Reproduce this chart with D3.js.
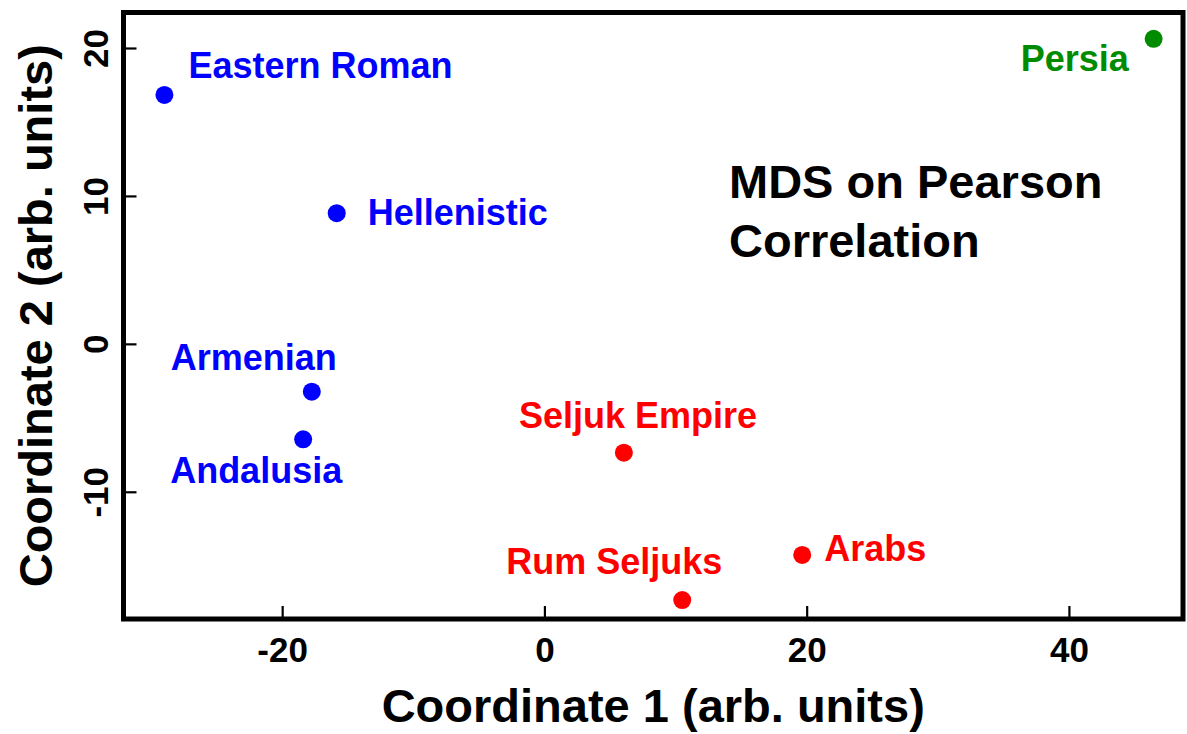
<!DOCTYPE html>
<html>
<head>
  <meta charset="utf-8">
  <style>
    body { margin: 0; background: #fff; }
    text { font-family: "Liberation Sans", Arial, Helvetica, sans-serif; font-weight: bold; }
  </style>
</head>
<body>
  <script src="https://d3js.org/d3.v7.min.js"></script>
  <svg id="chart"></svg>
  <script>
    // data
    var names = ["Eastern Roman", "Hellenistic", "Armenian", "Andalusia",
                 "Seljuk Empire", "Rum Seljuks", "Arabs", "Persia"];
    var coord1 = [-28.98, -15.84, -17.74, -18.40, 6.06, 10.51, 19.66, 46.46];
    var coord2 = [16.83, 8.83, -3.23, -6.45, -7.36, -17.32, -14.27, 20.62];
    var groups = ["west", "west", "west", "west", "turk", "turk", "turk", "persia"];
    var xTicks = [-20, 0, 20, 40];
    var yTicks = [-10, 0, 10, 20];

    var colors = { west: "#0000ff", turk: "#ff0000", persia: "#008b00" };

    // label placement relative to its point (pixels)
    var labelOffset = {
      "Eastern Roman": [24, -17],
      "Hellenistic": [31, 12],
      "Armenian": [-141, -22],
      "Andalusia": [-133, 44],
      "Seljuk Empire": [-105, -25],
      "Rum Seljuks": [-176, -26],
      "Arabs": [22, 6],
      "Persia": [-133, 32]
    };

    var width = 1187, height = 734;
    var plotLeft = 123.5, plotRight = 1183, plotTop = 12.5, plotBottom = 619;

    var svg = d3.select("#chart").attr("width", width).attr("height", height);

    var x = d3.scaleLinear().domain([-32.1, 48.7]).range([plotLeft, plotRight]);
    var y = d3.scaleLinear().domain([-18.6, 22.4]).range([plotBottom, plotTop]);

    var points = names.map(function(n, i) {
      return { name: n, x: coord1[i], y: coord2[i], group: groups[i] };
    });

    var plainFmt = function(d) { return String(d); }; // hyphen minus like R

    // x axis, ticks pointing in
    var xAxis = svg.append("g")
      .attr("transform", "translate(0," + plotBottom + ")")
      .call(d3.axisBottom(x).tickValues(xTicks).tickFormat(plainFmt).tickSize(-13).tickPadding(18));
    xAxis.select(".domain").remove();
    xAxis.selectAll("line").attr("stroke", "#000").attr("stroke-width", 2.2);
    xAxis.selectAll("text")
      .attr("fill", "#000")
      .style("font-size", "35px");

    // y axis, rotated labels like R
    var yAxis = svg.append("g")
      .attr("transform", "translate(" + plotLeft + ",0)")
      .call(d3.axisLeft(y).tickValues(yTicks).tickFormat(plainFmt).tickSize(-13));
    yAxis.select(".domain").remove();
    yAxis.selectAll("line").attr("stroke", "#000").attr("stroke-width", 2.2);
    yAxis.selectAll("text")
      .attr("x", 0)
      .attr("y", -16)
      .attr("dy", null)
      .attr("text-anchor", "middle")
      .attr("transform", "rotate(-90)")
      .attr("fill", "#000")
      .style("font-size", "35px");

    // frame
    svg.append("rect")
      .attr("x", plotLeft).attr("y", plotTop)
      .attr("width", plotRight - plotLeft).attr("height", plotBottom - plotTop)
      .attr("fill", "none")
      .attr("stroke", "#000")
      .attr("stroke-width", 5);

    // points
    svg.selectAll("circle.pt")
      .data(points)
      .enter().append("circle")
      .attr("class", "pt")
      .attr("cx", function(d) { return x(d.x); })
      .attr("cy", function(d) { return y(d.y); })
      .attr("r", 9)
      .attr("fill", function(d) { return colors[d.group]; });

    svg.selectAll("text.lbl")
      .data(points)
      .enter().append("text")
      .attr("class", "lbl")
      .attr("x", function(d) { return x(d.x) + labelOffset[d.name][0]; })
      .attr("y", function(d) { return y(d.y) + labelOffset[d.name][1]; })
      .attr("fill", function(d) { return colors[d.group]; })
      .style("font-size", "36px")
      .text(function(d) { return d.name; });

    // annotation
    var note = svg.append("text")
      .attr("x", 729)
      .attr("y", 198)
      .style("font-size", "47px")
      .attr("fill", "#000");
    note.append("tspan").attr("x", 729).text("MDS on Pearson");
    note.append("tspan").attr("x", 729).attr("dy", 59).text("Correlation");

    // axis titles
    svg.append("text")
      .attr("x", (plotLeft + plotRight) / 2)
      .attr("y", 722)
      .attr("text-anchor", "middle")
      .style("font-size", "47px")
      .text("Coordinate 1 (arb. units)");

    svg.append("text")
      .attr("transform", "translate(52," + ((plotTop + plotBottom) / 2) + ") rotate(-90)")
      .attr("text-anchor", "middle")
      .style("font-size", "47px")
      .text("Coordinate 2 (arb. units)");
  </script>
</body>
</html>
